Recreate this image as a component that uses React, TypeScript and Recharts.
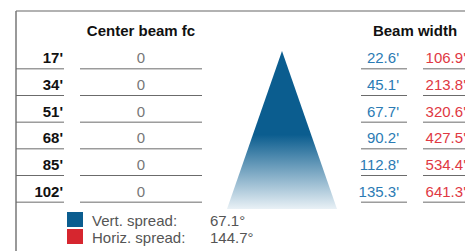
import { Bar, ComposedChart, Customized, XAxis, YAxis } from "recharts";

const distances = ["17'", "34'", "51'", "68'", "85'", "102'"];
const centerFc = [0, 0, 0, 0, 0, 0];
const vertWidth = ["22.6'", "45.1'", "67.7'", "90.2'", "112.8'", "135.3'"];
const horizWidth = ["106.9'", "213.8'", "320.6'", "427.5'", "534.4'", "641.3'"];
const spreadLabels = ["Vert. spread:", "Horiz. spread:"];
const spreadValues = ["67.1°", "144.7°"];

const FONT = "'Liberation Sans', Arial, sans-serif";
const BLUE = "#0b5d8f";
const RED = "#d6262f";
const BLUE_TEXT = "#2b7bb4";
const RED_TEXT = "#e03843";
const RULE = "#6b6b6b";

const rows = distances.map((d, i) => ({
  dist: d,
  fc: centerFc[i],
  vert: vertWidth[i],
  horiz: horizWidth[i],
}));

const RowTick = (props: any) => {
  const { y, payload } = props;
  const row = rows[payload.index];
  const ty = y + 2.5;
  const ly = y + 13.5;
  return (
    <g fontFamily={FONT} fontSize={15}>
      <text x={63} y={ty} textAnchor="end" dominantBaseline="central" fontWeight="bold" fill="#111">
        {row.dist}
      </text>
      <line x1={16} x2={64} y1={ly} y2={ly} stroke={RULE} />
      <text x={141} y={ty} textAnchor="middle" dominantBaseline="central" fill="#777">
        {row.fc}
      </text>
      <line x1={80} x2={202} y1={ly} y2={ly} stroke={RULE} />
      <text x={399} y={ty} textAnchor="end" dominantBaseline="central" fill={BLUE_TEXT}>
        {row.vert}
      </text>
      <line x1={361} x2={407} y1={ly} y2={ly} stroke={RULE} />
      <text x={466} y={ty} textAnchor="end" dominantBaseline="central" fill={RED_TEXT}>
        {row.horiz}
      </text>
      <line x1={423} x2={470} y1={ly} y2={ly} stroke={RULE} />
    </g>
  );
};

const Decor = () => (
  <g fontFamily={FONT}>
    <defs>
      <linearGradient id="beam" x1="0" y1="0" x2="0" y2="1">
        <stop offset="0" stopColor={BLUE} />
        <stop offset="0.53" stopColor={BLUE} />
        <stop offset="1" stopColor="#e9f1f6" />
      </linearGradient>
    </defs>
    <line x1={16} x2={470} y1={11} y2={11} stroke="#999" strokeWidth={1.5} />
    <line x1={16} x2={16} y1={11} y2={251} stroke="#777" strokeWidth={1.5} />
    <line x1={470} x2={470} y1={11} y2={251} stroke="#777" strokeWidth={1.5} />
    <text x={141} y={30} textAnchor="middle" dominantBaseline="central" fontSize={15} fontWeight="bold" fill="#111">
      Center beam fc
    </text>
    <text x={415} y={30} textAnchor="middle" dominantBaseline="central" fontSize={15} fontWeight="bold" fill="#111">
      Beam width
    </text>
    <polygon points="282,51 337,209 227,209" fill="url(#beam)" />
    {spreadLabels.map((label, i) => (
      <g key={label}>
        <rect x={67} y={212 + i * 17} width={16} height={15} fill={i === 0 ? BLUE : RED} />
        <text x={92} y={220 + i * 17} dominantBaseline="central" fontSize={15} fill="#555">
          {label}
        </text>
        <text x={210} y={220 + i * 17} dominantBaseline="central" fontSize={15} fill="#555">
          {spreadValues[i]}
        </text>
      </g>
    ))}
  </g>
);

export default function App() {
  return (
    <ComposedChart
      width={473}
      height={251}
      data={rows}
      layout="vertical"
      margin={{ top: 42, bottom: 49, left: 0, right: 0 }}
      style={{ marginLeft: -8, marginTop: -8 }}
    >
      <XAxis type="number" hide domain={[0, 1]} />
      <YAxis
        type="category"
        dataKey="dist"
        width={1}
        axisLine={false}
        tickLine={false}
        tick={<RowTick />}
        interval={0}
      />
      <Bar dataKey="fc" fill={BLUE} isAnimationActive={false} />
      <Customized component={<Decor />} />
    </ComposedChart>
  );
}
